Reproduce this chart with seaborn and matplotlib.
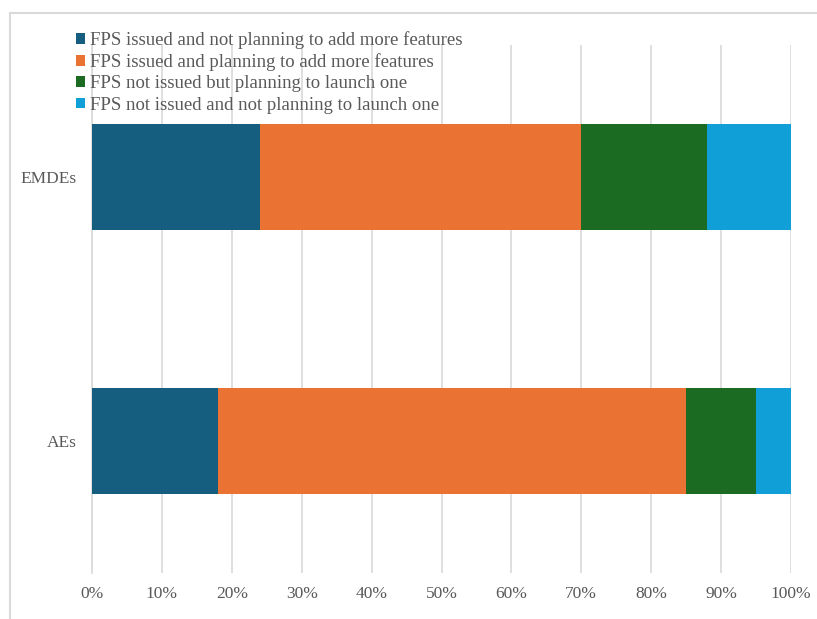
import matplotlib
matplotlib.use("Agg")
import matplotlib.pyplot as plt
import seaborn as sns
import pandas as pd
import numpy as np
from matplotlib.patches import Rectangle, Patch

categories = ["EMDEs", "AEs"]
series_names = [
    "FPS issued and not planning to add more features",
    "FPS issued and planning to add more features",
    "FPS not issued but planning to launch one",
    "FPS not issued and not planning to launch one",
]
s1 = [24, 18]
s2 = [46, 67]
s3 = [18, 10]
s4 = [12, 5]
colors = ["#165E80", "#EA7233", "#1B6B23", "#109FD7"]
xticks = [0, 10, 20, 30, 40, 50, 60, 70, 80, 90, 100]
xticklabels = ["0%", "10%", "20%", "30%", "40%", "50%", "60%", "70%", "80%", "90%", "100%"]

sns.set_theme(style="white")
plt.rcParams["font.family"] = ["Liberation Serif", "DejaVu Serif"]

fig = plt.figure(figsize=(8.17, 6.19), dpi=100)
ax = fig.add_axes([92 / 817, 1 - 573 / 619, (791 - 92) / 817, (573 - 45) / 619])

series = [s1, s2, s3, s4]
cum = np.cumsum(np.array(series), axis=0)
for i in range(len(series) - 1, -1, -1):
    df = pd.DataFrame({"cat": categories, "val": cum[i]})
    sns.barplot(data=df, y="cat", x="val", order=categories, color=colors[i],
                saturation=1, width=0.4, linewidth=0, ax=ax, zorder=3)

ax.set_xlim(0, 100)
ax.set_ylim(1.5, -0.5)
ax.set_xticks(xticks)
ax.set_xticklabels(xticklabels)
ax.set_xlabel("")
ax.set_ylabel("")
ax.grid(axis="x", color="#D9D9D9", linewidth=1.2, zorder=0)
ax.grid(axis="y", visible=False)
ax.set_axisbelow(True)
for side in ["top", "right", "bottom"]:
    ax.spines[side].set_visible(False)
ax.spines["left"].set_color("#D9D9D9")
ax.spines["left"].set_linewidth(1.2)
ax.tick_params(axis="x", length=0, pad=9, labelsize=12.5, labelcolor="#595959")
ax.tick_params(axis="y", length=0, pad=11, labelsize=12.5, labelcolor="#595959")

handles = [Patch(facecolor=c, edgecolor="none") for c in colors]
fig.legend(handles, series_names, loc="upper left",
           bbox_to_anchor=(76 / 817, 1 - 31 / 619), frameon=False,
           fontsize=13.5, labelcolor="#595959", handlelength=0.5, handleheight=0.5,
           handletextpad=0.25, labelspacing=0.23, borderpad=0, borderaxespad=0)

fig.patches.append(Rectangle((10 / 817, -0.05), 1.1, 1 - 13 / 619 + 0.05,
                             transform=fig.transFigure, fill=False,
                             edgecolor="#D9D9D9", linewidth=1.5))

fig.savefig("out.png", dpi=100)
